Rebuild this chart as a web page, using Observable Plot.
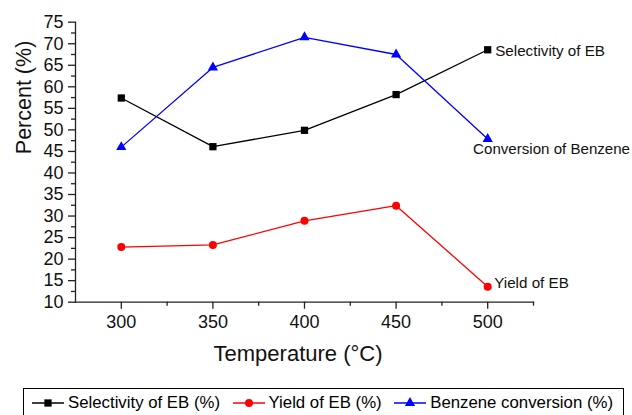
<!DOCTYPE html>
<html>
<head>
<meta charset="utf-8">
<script src="https://cdn.jsdelivr.net/npm/d3@7"></script>
<script src="https://cdn.jsdelivr.net/npm/@observablehq/plot@0.6"></script>
<style>
  html, body { margin: 0; padding: 0; background: #fff; overflow: hidden; }
  body { width: 632px; height: 415px; font-family: "Liberation Sans", Arial, sans-serif; }
  #chart svg { display: block; }
  .legend {
    margin: 2px 0 0 23px;
    width: 601px;
    height: 30px;
    border: 1px solid #000;
    box-sizing: border-box;
    display: flex;
    align-items: center;
    padding-left: 8px;
    gap: 12.5px;
    font-size: 16.8px;
    color: #000;
  }
  .legend .item { display: flex; align-items: center; gap: 4px; white-space: nowrap; }
</style>
</head>
<body>
<div id="chart"></div>
<script>
// Reaction temperature (°C)
const temperatures = [300, 350, 400, 450, 500];
// Series values (%)
const selectivityEB = [57.4, 46.1, 49.9, 58.2, 68.6];
const yieldEB = [22.8, 23.3, 28.9, 32.4, 13.6];
const benzeneConversion = [46.0, 64.5, 71.5, 67.5, 47.9];

const seriesNames = ["Selectivity of EB (%)", "Yield of EB (%)", "Benzene conversion (%)"];
const endLabels = ["Selectivity of EB", "Yield of EB", "Conversion of Benzene"];
const seriesColors = ["#000000", "#ff0000", "#0000ff"];
const seriesSymbols = ["square", "circle", "triangle"];

// Axis ticks
const xTicks = [300, 350, 400, 450, 500];
const xMinorTicks = [325, 375, 425, 475, 525];
const yTicks = [10, 15, 20, 25, 30, 35, 40, 45, 50, 55, 60, 65, 70, 75];
const yMinorTicks = [12.5, 17.5, 22.5, 27.5, 32.5, 37.5, 42.5, 47.5, 52.5, 57.5, 62.5, 67.5, 72.5];

const seriesValues = [selectivityEB, yieldEB, benzeneConversion];
const rows = seriesValues.flatMap((vals, s) =>
  vals.map((v, i) => ({series: s, t: temperatures[i], v}))
);
const sizes = [4.1, 4, 3.8];

const font = "'Liberation Sans', Arial, sans-serif";

const marks = [
  Plot.frame({anchor: "left", stroke: "#222", strokeWidth: 1.3}),
  Plot.frame({anchor: "bottom", stroke: "#222", strokeWidth: 1.3}),
  Plot.axisX({ticks: xTicks, tickSize: 7, tickPadding: 6.5, fontSize: 18, label: null, stroke: "#222", strokeWidth: 1.3, tickFormat: d => String(d)}),
  Plot.axisX({ticks: xMinorTicks, tickSize: 4, label: null, text: null, stroke: "#222", strokeWidth: 1.3}),
  Plot.axisY({ticks: yTicks, tickSize: 7, tickPadding: 5, fontSize: 18, label: null, stroke: "#222", strokeWidth: 1.3, tickFormat: d => String(d)}),
  Plot.axisY({ticks: yMinorTicks, tickSize: 4, label: null, text: null, stroke: "#222", strokeWidth: 1.3}),
  Plot.text(["Temperature (°C)"], {frameAnchor: "bottom", lineAnchor: "bottom", dy: 58.5, dx: -6.5, fontSize: 22, fill: "#111"}),
  Plot.text(["Percent (%)"], {frameAnchor: "left", rotate: -90, dx: -51, dy: -8, fontSize: 21.5, fill: "#111"})
];

seriesValues.forEach((vals, s) => {
  const data = rows.filter(d => d.series === s);
  marks.push(Plot.line(data, {x: "t", y: "v", stroke: seriesColors[s], strokeWidth: 1.3}));
  marks.push(Plot.dot(data, {x: "t", y: "v", symbol: () => seriesSymbols[s], r: sizes[s], fill: seriesColors[s], stroke: "none"}));
});

// End-of-line labels
const last = i => rows.filter(d => d.series === i).slice(-1);
marks.push(Plot.text(last(0), {x: "t", y: "v", text: () => endLabels[0], textAnchor: "start", dx: 7.5, dy: 1.5, fontSize: 15.2, fill: "#111"}));
marks.push(Plot.text(last(1), {x: "t", y: "v", text: () => endLabels[1], textAnchor: "start", dx: 6.5, dy: -4, fontSize: 15.2, fill: "#111"}));
marks.push(Plot.text(last(2), {x: "t", y: "v", text: () => endLabels[2], textAnchor: "start", dx: -14.6, dy: 10, fontSize: 15.1, fill: "#111"}));

const chart = Plot.plot({
  width: 632,
  height: 386,
  marginLeft: 75,
  marginRight: 99,
  marginTop: 21.7,
  marginBottom: 84.3,
  style: {fontFamily: font, background: "#fff", color: "#111", overflow: "visible"},
  x: {type: "linear", domain: [275, 525]},
  y: {type: "linear", domain: [10, 75]},
  marks
});
document.getElementById("chart").appendChild(chart);

// Legend below the plot
const legend = d3.select("body").append("div").attr("class", "legend");
seriesNames.forEach((name, s) => {
  const item = legend.append("div").attr("class", "item");
  const sw = item.append("svg").attr("width", 32).attr("height", 14);
  sw.append("line").attr("x1", 0).attr("x2", 32).attr("y1", 7).attr("y2", 7)
    .attr("stroke", seriesColors[s]).attr("stroke-width", 1.5);
  const sym = {square: d3.symbolSquare, circle: d3.symbolCircle, triangle: d3.symbolTriangle}[seriesSymbols[s]];
  sw.append("path").attr("transform", "translate(16,7)")
    .attr("d", d3.symbol(sym, Math.PI * sizes[s] * sizes[s])())
    .attr("fill", seriesColors[s]);
  item.append("span").text(name);
});
</script>
</body>
</html>
